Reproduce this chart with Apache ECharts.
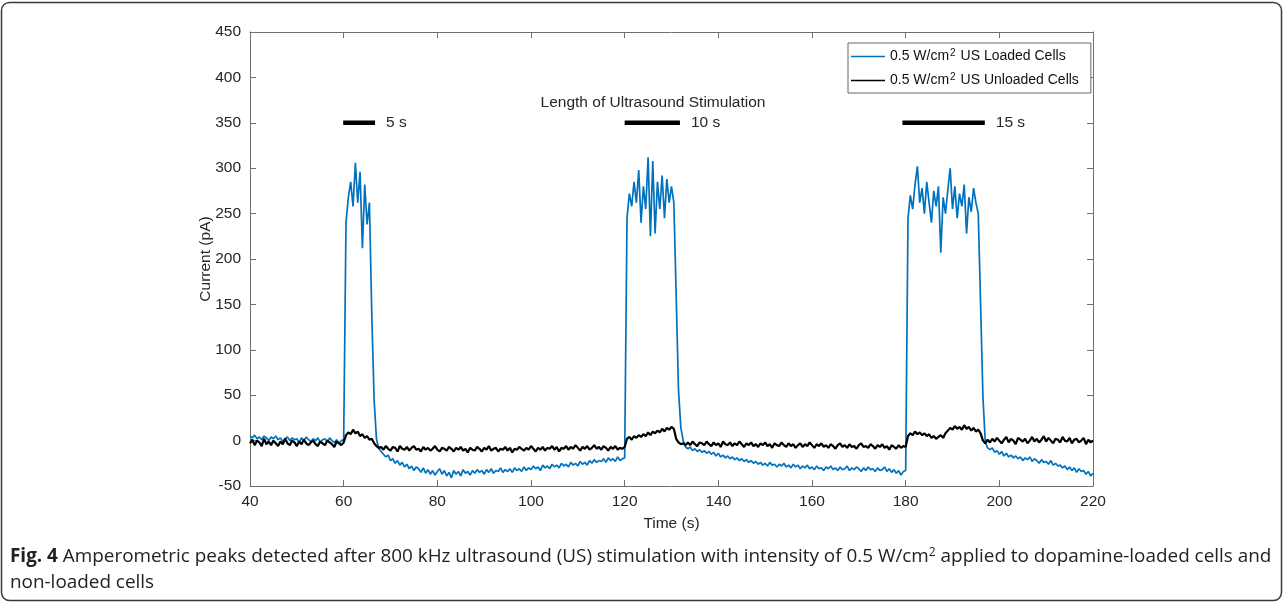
<!DOCTYPE html>
<html>
<head>
<meta charset="utf-8">
<script src="https://cdn.jsdelivr.net/npm/echarts@6/dist/echarts.min.js"></script>
<style>
  html, body { margin: 0; padding: 0; background: #ffffff; }
  #chart { width: 1284px; height: 603px; }
</style>
</head>
<body>
<div id="chart"></div>
<script>
// ---- Data ----
// Sampling grid: every 0.5 s from 40 s to 220 s
const TIME_START = 40;
const TIME_STEP = 0.5;

// 0.5 W/cm2 US Loaded Cells (pA)
const loadedCells = [
  // 40.0 - 59.5
  5,3,6,2,4,1,5,3,0,4, 2,5,1,3,-1,2,4,0,3,1, 2,-2,3,0,4,1,-1,2,0,3, -2,1,2,-1,3,0,-2,1,-3,0,
  // 60.0 - 67.5 (5 s stimulation)
  1,240,268,285,258,306,262,296,212,282,238,262,140,45,2,-9,
  // 68.0 - 99.5
  -12,-15,-18,-16,-22,-20,-25,-22,-27,-24,
  -29,-26,-31,-28,-33,-29,-31,-35,-30,-36,
  -32,-37,-33,-38,-34,-31,-37,-33,-39,-35,
  -41,-33,-37,-34,-39,-32,-36,-34,-38,-33,
  -36,-32,-35,-33,-37,-32,-35,-31,-36,-33,
  -34,-30,-35,-32,-34,-31,-35,-30,-33,-31,
  -34,-29,-33,-30,
  // 100.0 - 119.5
  -32,-28,-31,-29,-33,-27,-30,-28,-31,-26,
  -29,-27,-30,-25,-28,-26,-29,-24,-27,-25,
  -28,-23,-26,-24,-27,-22,-25,-21,-24,-22,
  -23,-20,-24,-19,-22,-20,-23,-18,-22,-20,
  // 120.0 - 133.0 (10 s stimulation)
  -19,245,272,258,285,262,298,240,280,255,312,225,308,228,285,255,292,245,288,262,280,262,160,55,14,0,-7,
  // 133.5 - 159.5
  -9,-7,-11,-9,-12,-10,-13,-11,-14,
  -12,-15,-13,-17,-14,-18,-16,-19,-17,-20,
  -18,-21,-19,-22,-20,-23,-21,-24,-22,-25,
  -23,-26,-24,-27,-25,-28,-24,-27,-26,-29,
  -26,-28,-25,-29,-27,-30,-26,-29,-27,-31,
  -28,-30,-27,-31,
  // 160.0 - 179.5
  -29,-32,-28,-31,-30,-33,-29,-31,-28,-32,
  -30,-33,-29,-32,-31,-28,-33,-30,-32,-29,
  -31,-34,-30,-33,-29,-32,-31,-34,-30,-33,
  -32,-29,-34,-31,-35,-32,-36,-33,-38,-34,
  // 180.0 - 197.5 (15 s stimulation)
  -33,245,270,255,282,302,262,278,250,285,262,240,275,258,280,207,268,250,276,300,255,
  280,245,272,258,282,228,268,252,278,262,250,150,48,-2,-8,
  // 198.0 - 220.0
  -10,-8,-13,-11,-15,-12,-17,-14,-18,-16,
  -19,-17,-20,-18,-22,-19,-21,-18,-23,-20,
  -22,-25,-21,-24,-23,-26,-22,-27,-25,-28,
  -27,-30,-28,-32,-29,-33,-30,-35,-31,-34,
  -33,-37,-34,-39,-36
];

// 0.5 W/cm2 US Unloaded Cells (pA)
const unloadedCells = [
  // 40.0 - 59.5
  -3,1,-5,0,-2,-6,2,-4,-1,-5, 0,-3,-6,-1,-4,2,-3,-5,0,-2,
  -6,-1,-4,1,-3,-5,-2,0,-4,-6, -1,-3,-5,0,-2,-4,-7,-1,-3,-5,
  // 60.0 - 67.5
  -2,6,9,7,12,8,10,5,7,3,5,1,2,-3,-6,-8,
  // 68.0 - 119.5
  -7,-10,-6,-9,-11,-7,-8,-12,-6,-9,
  -10,-7,-11,-8,-6,-10,-9,-12,-7,-10,
  -8,-11,-9,-6,-10,-12,-8,-9,-11,-7,
  -9,-12,-8,-10,-7,-11,-9,-13,-8,-10,
  -11,-7,-9,-12,-8,-10,-6,-11,-9,-8,
  -12,-9,-10,-7,-11,-8,-13,-9,-10,-7,
  -9,-11,-8,-10,-6,-9,-12,-8,-10,-7,
  -11,-8,-9,-6,-10,-7,-12,-8,-9,-6,
  -10,-7,-9,-5,-8,-11,-7,-9,-6,-10,
  -8,-5,-9,-7,-10,-6,-8,-11,-7,-9,
  -6,-10,-8,-9,
  // 120.0 - 133.0
  -7,2,4,1,5,3,6,4,7,5,9,6,10,8,11,9,13,10,14,12,15,13,2,-2,-4,-3,-5,
  // 133.5 - 179.5
  -2,-5,-1,-4,-6,-2,-3,-5,-1,
  -4,-6,-2,-5,-3,-7,-1,-4,-5,-2,
  -6,-3,-5,-1,-4,-7,-3,-5,-2,-6,
  -4,-7,-3,-5,-2,-6,-4,-8,-3,-5,
  -6,-2,-5,-7,-3,-6,-4,-8,-5,-3,
  -7,-4,-6,-2,-5,-8,-4,-6,-3,-7,
  -5,-8,-4,-6,-9,-5,-3,-7,-5,-8,
  -4,-7,-6,-9,-5,-3,-7,-6,-8,-4,
  -6,-9,-5,-7,-4,-8,-6,-10,-5,-7,
  -9,-5,-8,-6,
  // 180.0 - 197.5
  -7,5,8,6,10,7,9,6,8,5,7,3,5,2,4,6,3,8,11,14,
  12,16,13,15,12,17,13,15,11,14,10,12,8,0,-3,1,
  // 198.0 - 220.0
  -2,2,-1,3,0,-3,1,4,-2,2, 0,-4,3,1,-1,2,-3,0,4,-1,
  2,-2,1,5,-1,3,0,-3,2,1, -2,4,0,-1,3,-3,1,2,-2,0,
  3,-4,1,-2,0
];

// Ultrasound stimulation bars
const stimStart = [59.9, 120.0, 179.3];
const stimEnd = [66.7, 131.8, 196.9];
const stimLevel = 350;
const stimLabels = ['5 s', '10 s', '15 s'];

const seriesNames = ['0.5 W/cm2 US Loaded Cells', '0.5 W/cm2 US Unloaded Cells'];
const xTicks = { min: 40, max: 220, step: 20 };
const yTicks = { min: -50, max: 450, step: 50 };

// ---- Build ----
const times = loadedCells.map((_, i) => TIME_START + i * TIME_STEP);
const loadedData = loadedCells.map((v, i) => [times[i], v]);
const unloadedData = unloadedCells.map((v, i) => [times[i], v]);

const FONT = '"Liberation Sans", Arial, Helvetica, sans-serif';
const CAPFONT = '"Open Sans", "Noto Sans", sans-serif';
const TXT = '#262626';
const AX = '#707070';

function xAxisCfg(pos, showLabels) {
  return {
    type: 'value', position: pos,
    min: xTicks.min, max: xTicks.max, interval: xTicks.step,
    axisLine: { show: true, onZero: false, lineStyle: { color: AX, width: 1 } },
    axisTick: { show: true, inside: true, length: 6, lineStyle: { color: AX } },
    axisLabel: { show: showLabels, fontSize: 15.5, color: TXT, fontFamily: FONT, margin: 8 },
    splitLine: { show: false },
    name: showLabels ? 'Time (s)' : '',
    nameLocation: 'middle', nameGap: 30, nameMoveOverlap: false,
    nameTextStyle: { fontSize: 15.5, color: TXT, fontFamily: FONT }
  };
}
function yAxisCfg(pos, showLabels) {
  return {
    type: 'value', position: pos,
    min: yTicks.min, max: yTicks.max, interval: yTicks.step,
    axisLine: { show: true, onZero: false, lineStyle: { color: AX, width: 1 } },
    axisTick: { show: true, inside: true, length: 6, lineStyle: { color: AX } },
    axisLabel: { show: showLabels, fontSize: 15.5, color: TXT, fontFamily: FONT, margin: 9 },
    splitLine: { show: false },
    name: showLabels ? 'Current (pA)' : '',
    nameLocation: 'middle', nameGap: 36, nameRotate: 90, nameMoveOverlap: false,
    nameTextStyle: { fontSize: 15.5, color: TXT, fontFamily: FONT }
  };
}

const stimSeries = stimStart.map((s, k) => ({
  type: 'line', name: 'stim' + k,
  xAxisIndex: 0, yAxisIndex: 0,
  showSymbol: false, symbol: 'none',
  lineStyle: { color: '#000', width: 4.5 },
  silent: true, z: 5,
  endLabel: { show: true, distance: 11, formatter: stimLabels[k],
              fontSize: 15.5, color: TXT, fontFamily: FONT },
  data: [[s, stimLevel], [stimEnd[k], stimLevel]]
}));

const supRich = {
  sup: { fontSize: 10, verticalAlign: 'top', lineHeight: 10, padding: [0, 1, 6, 1], fontFamily: FONT, color: '#111' }
};
function legendFmt(name) {
  return name.replace('cm2', 'cm{sup|2}');
}

const chart = echarts.init(document.getElementById('chart'), null, { renderer: 'canvas' });
chart.setOption({
  animation: false,
  backgroundColor: '#ffffff',
  textStyle: { fontFamily: FONT },
  grid: { left: 250, right: 191, top: 32, bottom: 117, containLabel: false },
  xAxis: [xAxisCfg('bottom', true), xAxisCfg('top', false)],
  yAxis: [yAxisCfg('left', true), yAxisCfg('right', false)],
  legend: {
    data: seriesNames,
    orient: 'vertical',
    left: 848, top: 43,
    backgroundColor: '#fff',
    borderColor: '#666', borderWidth: 1,
    padding: [5, 12, 4, 3],
    itemGap: 7,
    itemWidth: 34, itemHeight: 1.5,
    icon: 'rect',
    formatter: legendFmt,
    textStyle: { fontSize: 14, color: '#111', fontFamily: FONT, lineHeight: 17, rich: supRich }
  },
  series: [
    { type: 'line', name: seriesNames[0], data: loadedData,
      xAxisIndex: 0, yAxisIndex: 0,
      showSymbol: false, symbol: 'none',
      lineStyle: { color: '#0072BD', width: 1.7 }, itemStyle: { color: '#0072BD' }, z: 2 },
    { type: 'line', name: seriesNames[1], data: unloadedData,
      xAxisIndex: 0, yAxisIndex: 0,
      showSymbol: false, symbol: 'none',
      lineStyle: { color: '#000000', width: 2.2 }, itemStyle: { color: '#000000' }, z: 3 }
  ].concat(stimSeries),
  graphic: [
    { type: 'rect', silent: true, z: -1,
      shape: { x: 1.5, y: 2.5, width: 1280, height: 598, r: 8 },
      style: { fill: 'none', stroke: '#3a3a3a', lineWidth: 1.5 } },
    { type: 'text', x: 653, y: 103, silent: true,
      style: { text: 'Length of Ultrasound Stimulation', fontSize: 15.5, fill: TXT,
               fontFamily: FONT, textAlign: 'center', textVerticalAlign: 'middle' } },
    { type: 'text', x: 10, y: 557, silent: true,
      style: {
        text: '{b|Fig. 4} Amperometric peaks detected after 800 kHz ultrasound (US) stimulation with intensity of 0.5 W/cm{s|2} applied to dopamine-loaded cells and',
        fontSize: 18.9, fill: '#222', fontFamily: CAPFONT,
        textVerticalAlign: 'middle',
        rich: {
          b: { fontWeight: 'bold', fontSize: 18.9, fill: '#222', fontFamily: CAPFONT },
          s: { fontSize: 12, verticalAlign: 'top', padding: [0, 0, 9, 0], fill: '#222', fontFamily: CAPFONT }
        }
      } },
    { type: 'text', x: 10, y: 583, silent: true,
      style: { text: 'non-loaded cells', fontSize: 18.9, fill: '#222',
               fontFamily: CAPFONT, textVerticalAlign: 'middle' } }
  ]
});
</script>
</body>
</html>
